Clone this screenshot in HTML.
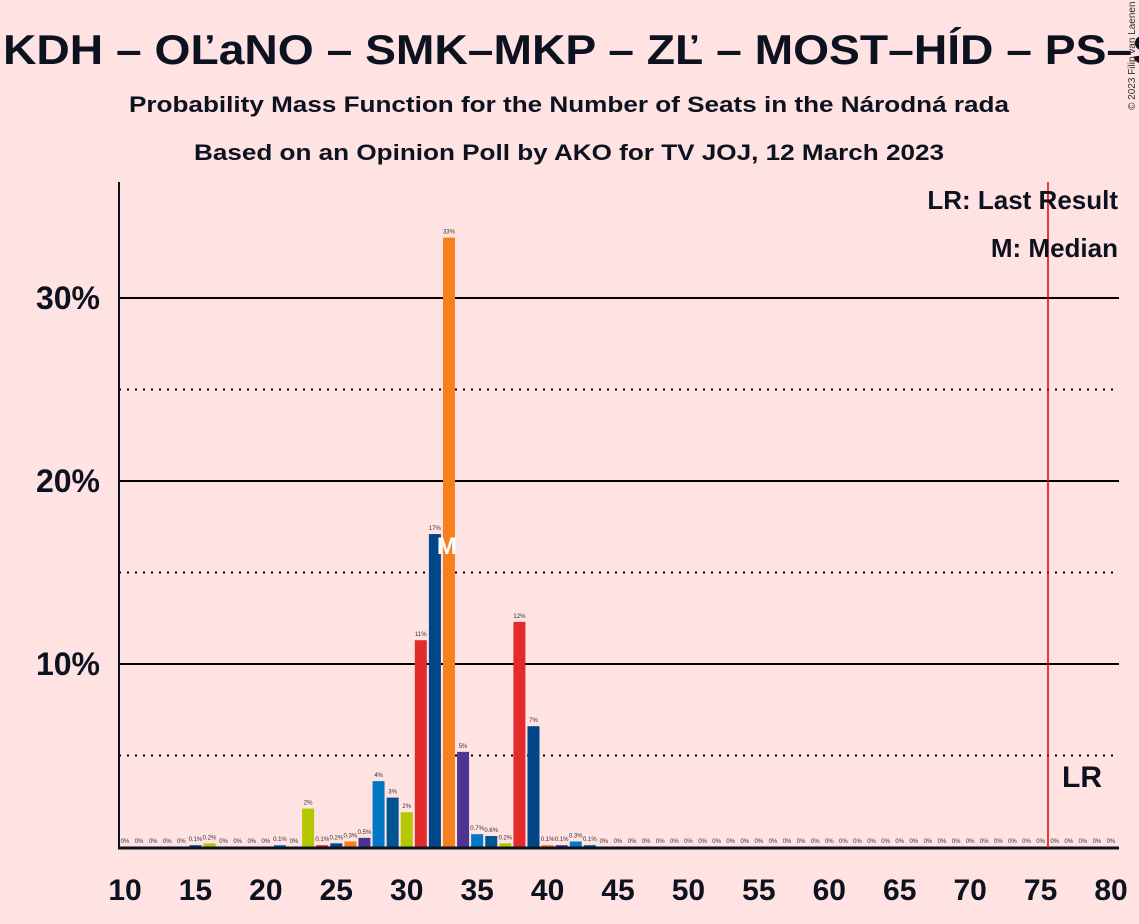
<!DOCTYPE html>
<html><head><meta charset="utf-8"><style>
body{margin:0;background:#ffe2e2;font-family:"Liberation Sans",sans-serif;}
svg{display:block}
</style></head><body>
<svg id="c" width="1139" height="924" viewBox="0 0 1139 924">
<rect width="1139" height="924" fill="#ffe2e2"/>
<text x="3" y="64" font-size="42" font-weight="bold" fill="#0d1220" textLength="1160" lengthAdjust="spacingAndGlyphs">KDH – OĽaNO – SMK–MKP – ZĽ – MOST–HÍD – PS–S</text>
<text x="569" y="112" text-anchor="middle" font-size="22" font-weight="bold" fill="#0d1220" textLength="880" lengthAdjust="spacingAndGlyphs">Probability Mass Function for the Number of Seats in the Národná rada</text>
<text x="569" y="160" text-anchor="middle" font-size="22" font-weight="bold" fill="#0d1220" textLength="750" lengthAdjust="spacingAndGlyphs">Based on an Opinion Poll by AKO for TV JOJ, 12 March 2023</text>
<text transform="translate(1135,110) rotate(-90)" font-size="10" fill="#333">© 2023 Filip van Laenen</text>
<g id="grid"></g><g id="bars"></g><g id="xt"></g>
<line x1="119" y1="182" x2="119" y2="849" stroke="#0d1220" stroke-width="2"/>
<line x1="118" y1="848" x2="1119" y2="848" stroke="#0d1220" stroke-width="3"/>
<line x1="1048" y1="182" x2="1048" y2="848" stroke="#e00000" stroke-width="1.5"/>
<text x="1118" y="209" text-anchor="end" font-size="26" font-weight="bold" fill="#0d1220">LR: Last Result</text>
<text x="1118" y="257" text-anchor="end" font-size="26" font-weight="bold" fill="#0d1220">M: Median</text>
<text x="1062" y="787" font-size="30" font-weight="bold" fill="#0d1220">LR</text>
</svg>
<script>
const seats=[10,11,12,13,14,15,16,17,18,19,20,21,22,23,24,25,26,27,28,29,30,31,32,33,34,35,36,37,38,39,40,41,42,43,44,45,46,47,48,49,50,51,52,53,54,55,56,57,58,59,60,61,62,63,64,65,66,67,68,69,70,71,72,73,74,75,76,77,78,79,80];
const probs=[0,0,0,0,0,0.1,0.2,0,0,0,0,0.1,0,2.1,0.1,0.2,0.3,0.5,3.6,2.7,1.9,11.3,17.1,33.3,5.2,0.7,0.6,0.2,12.3,6.6,0.1,0.1,0.3,0.1,0,0,0,0,0,0,0,0,0,0,0,0,0,0,0,0,0,0,0,0,0,0,0,0,0,0,0,0,0,0,0,0,0,0,0,0,0];
const labels=probs.map(p=>p===0?"0%":(p<1?p+"%":Math.round(p)+"%"));
const yTicks=[10,20,30];
const yMinor=[5,15,25];
const xTicks=[10,15,20,25,30,35,40,45,50,55,60,65,70,75,80];
const medianSeat=32;
const colors=["#e32b2b","#02468a","#f7801e","#4b3591","#0078c6","#005591","#b3c800"];
const NS="http://www.w3.org/2000/svg";
const X=s=>125+(s-10)*14.086, Y=v=>847-v*18.3;
function mk(t,a,p){const e=document.createElementNS(NS,t);for(const k in a)e.setAttribute(k,a[k]);p.appendChild(e);return e;}
const g=document.getElementById('grid');
yTicks.forEach(v=>{
 const l=mk('line',{x1:119,x2:1119,y1:Y(v),y2:Y(v),stroke:'#000','stroke-width':2},g);
 
 
 const t=mk('text',{x:100,y:Y(v)+11,'text-anchor':'end','font-size':32,'font-weight':'bold',fill:'#0d1220'},g);
 t.textContent=v+'%';
 
 
});
yMinor.forEach(v=>{
 const l=mk('line',{x1:119,x2:1119,y1:Y(v),y2:Y(v),stroke:'#000','stroke-width':2,'stroke-dasharray':'2,6'},g);
 
 
});
const b=document.getElementById('bars');
seats.forEach((s,i)=>{
 const p=probs[i];
 if(p>0){
  const r=mk('rect',{x:X(s)-6,y:Y(p),width:12,height:847-Y(p),fill:colors[(s-10)%7]},b);
  
  
 }
 const t=mk('text',{x:X(s),y:Y(p)-4,'text-anchor':'middle','font-size':6,fill:'#333'},b);
 t.textContent=labels[i];
 
 
});
const mi=seats.indexOf(medianSeat);
const m=mk('text',{x:X(medianSeat)+12,y:Y(probs[mi])+20,'text-anchor':'middle','font-size':24,'font-weight':'bold',fill:'#fff'},b);
m.textContent='M';


const xt=document.getElementById('xt');
xTicks.forEach(s=>{
 const t=mk('text',{x:X(s),y:900,'text-anchor':'middle','font-size':30,'font-weight':'bold',fill:'#0d1220'},xt);
 t.textContent=s;
 
 
});
</script>
</body></html>
